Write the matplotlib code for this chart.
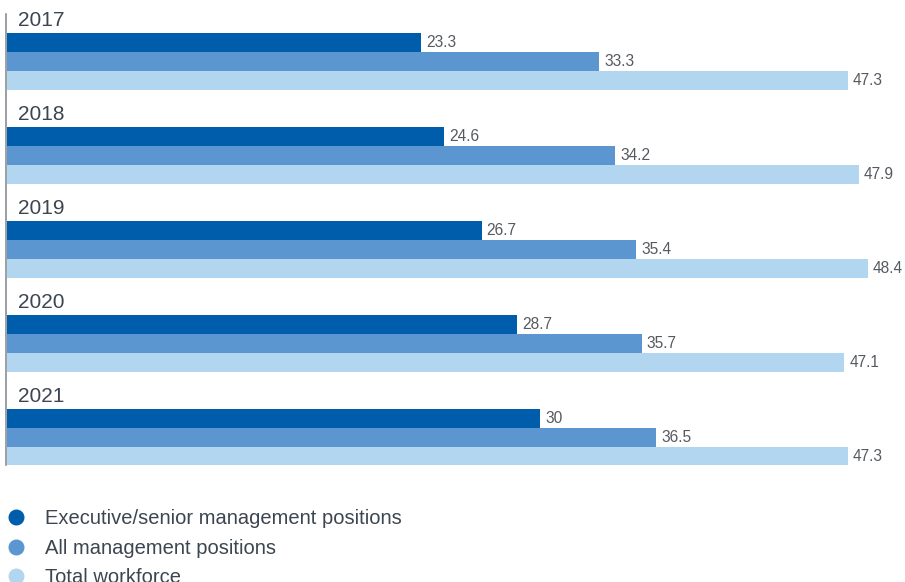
import numpy as np
import matplotlib
matplotlib.use("Agg")
import matplotlib.pyplot as plt
from matplotlib.lines import Line2D

plt.rcParams['font.family'] = ['Liberation Sans', 'DejaVu Sans']

years = ['2017', '2018', '2019', '2020', '2021']
executive = [23.3, 24.6, 26.7, 28.7, 30]
all_mgmt = [33.3, 34.2, 35.4, 35.7, 36.5]
workforce = [47.3, 47.9, 48.4, 47.1, 47.3]
series_names = ['Executive/senior management positions', 'All management positions', 'Total workforce']
colors = ['#005DAC', '#5B96D0', '#B3D6F0']

W, H = 905, 582
fig = plt.figure(figsize=(W / 100, H / 100), dpi=100)
# axes in pixel terms: left spine at x=6, top 14, bottom 465
ax = fig.add_axes([6 / W, 1 - 465 / H, 1 - 6 / W, (465 - 14) / H])

px_per_unit = 17.78
ax.set_xlim(-1 / px_per_unit, (W - 6 - 1) / px_per_unit)
group = 94.0
bar_h = 19 / group
ax.set_ylim((465 - 61.5) / group, (14 - 61.5) / group)

y = np.arange(len(years))
label_color = '#555a60'
for k, (vals, c) in enumerate(zip([executive, all_mgmt, workforce], colors)):
    pos = y + (k - 1) * bar_h
    ax.barh(pos, vals, height=bar_h, color=c, left=0)
    for p, v in zip(pos, vals):
        txt = f'{v:g}'
        ax.text(v + 5 / px_per_unit, p, txt, va='center', ha='left',
                fontsize=11.2, color=label_color)

for i, yr in enumerate(years):
    ax.text(11 / px_per_unit, i - 0.44, yr, va='center', ha='left',
            fontsize=15, color='#3c4650')

for s in ['top', 'right', 'bottom']:
    ax.spines[s].set_visible(False)
ax.spines['left'].set_color('#8a8f94')
ax.spines['left'].set_linewidth(1.2)
ax.set_xticks([])
ax.set_yticks([])

handles = [Line2D([], [], marker='o', linestyle='none', markersize=10.5,
                  markerfacecolor=c, markeredgecolor=c) for c in colors]
leg = fig.legend(handles, series_names, loc='upper left',
                 bbox_to_anchor=(0.0, 1 - 509.5 / H), frameon=False,
                 fontsize=14.5, labelspacing=0.5, handletextpad=0.65,
                 handlelength=1.59, borderaxespad=0, borderpad=0)
for t in leg.get_texts():
    t.set_color('#3c4650')

fig.savefig('out.png', dpi=100)
